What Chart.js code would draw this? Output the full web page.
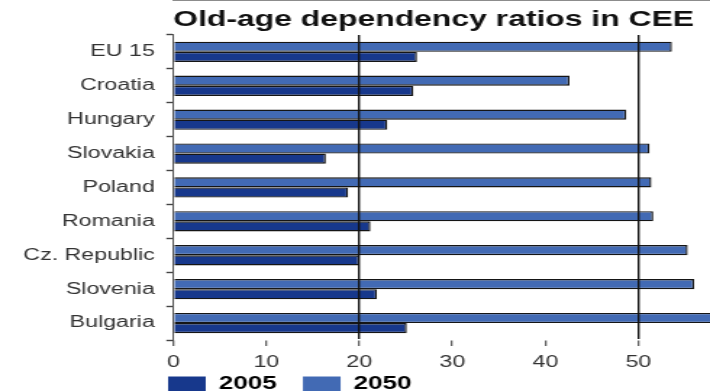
<!DOCTYPE html>
<html>
<head>
<meta charset="utf-8">
<script src="https://cdn.jsdelivr.net/npm/chart.js@4/dist/chart.umd.min.js"></script>
<style>
  html, body { margin: 0; padding: 0; background: #fff; overflow: hidden; }
  /* the source picture is stretched sideways, so the bitmap is drawn narrow and widened */
  #chart { display: block; width: 710px; height: 391px; }
</style>
</head>
<body>
<canvas id="chart" width="490" height="391" style="width:710px;height:391px"></canvas>
<script>
// --- DATA ---
const countries = ['EU 15', 'Croatia', 'Hungary', 'Slovakia', 'Poland', 'Romania', 'Cz. Republic', 'Slovenia', 'Bulgaria'];
const ratio2005 = [26.2, 25.8, 23.0, 16.4, 18.8, 21.2, 20.0, 21.9, 25.1];
const ratio2050 = [53.6, 42.6, 48.7, 51.2, 51.4, 51.6, 55.3, 56.0, 59.0];
const xTicks = [0, 10, 20, 30, 40, 50];
const gridValues = [20, 50];

const FONT = '"Liberation Sans", Arial, sans-serif';
const DARK = '#17388c';
const LIGHT = '#426ab4';

// legend sits tighter under the axis than chart.js would put it
const legendNudge = {
    id: 'legendNudge',
    afterLayout(chart) {
        const lg = chart.legend;
        const h = lg.bottom - lg.top;
        lg.left = 98;
        lg.top = 357;
        lg.bottom = 357 + h;
    }
};

const ctx = document.getElementById('chart').getContext('2d');
new Chart(ctx, {
    type: 'bar',
    data: {
        labels: countries,
        datasets: [
            { label: '2050', data: ratio2050, backgroundColor: LIGHT, borderColor: '#151515', borderWidth: 1.4 },
            { label: '2005', data: ratio2005, backgroundColor: DARK, borderColor: '#151515', borderWidth: 1.4 }
        ]
    },
    plugins: [legendNudge],
    options: {
        indexAxis: 'y',
        responsive: false,
        animation: false,
        devicePixelRatio: 1,
        layout: { padding: { left: 0, right: 0, top: 0, bottom: -25 } },
        datasets: { bar: { categoryPercentage: 0.6, barPercentage: 1 } },
        scales: {
            x: {
                min: 0,
                max: 57.7,
                afterBuildTicks: (scale) => { scale.ticks = xTicks.map(v => ({ value: v })); },
                afterFit: (scale) => { scale.height = 30; },
                ticks: { color: '#333', font: { family: FONT, size: 16 }, padding: 7, maxRotation: 0 },
                grid: {
                    z: 1,
                    color: (c) => (c.tick && gridValues.includes(c.tick.value)) ? '#111' : 'rgba(0,0,0,0)',
                    lineWidth: 1.4,
                    tickColor: '#444',
                    tickLength: 6,
                    tickWidth: 1.1
                },
                border: { color: '#666', width: 1.6 }
            },
            y: {
                afterFit: (scale) => { scale.width = 119.6; },
                ticks: { color: '#333', font: { family: FONT, size: 16 }, padding: 8 },
                grid: {
                    drawOnChartArea: false,
                    color: 'rgba(0,0,0,0)',
                    tickColor: '#444',
                    tickLength: 4.8,
                    tickWidth: 1.4
                },
                border: { color: '#555', width: 1 }
            }
        },
        plugins: {
            title: {
                display: true,
                text: 'Old-age dependency ratios in CEE',
                align: 'start',
                fullSize: false,
                color: '#111',
                font: { family: FONT, size: 22, weight: 'bold' },
                padding: { top: 7, bottom: 1.5 }
            },
            legend: {
                position: 'bottom',
                align: 'start',
                reverse: true,
                labels: {
                    boxWidth: 26,
                    boxHeight: 15,
                    padding: 18,
                    color: '#111',
                    font: { family: FONT, size: 18, weight: 'bold' },
                    generateLabels: (chart) => chart.data.datasets.map((ds, i) => ({
                        text: ds.label,
                        fillStyle: ds.backgroundColor,
                        strokeStyle: ds.backgroundColor,
                        lineWidth: 0,
                        datasetIndex: i
                    }))
                }
            },
            tooltip: { enabled: false }
        }
    }
});
</script>
</body>
</html>
